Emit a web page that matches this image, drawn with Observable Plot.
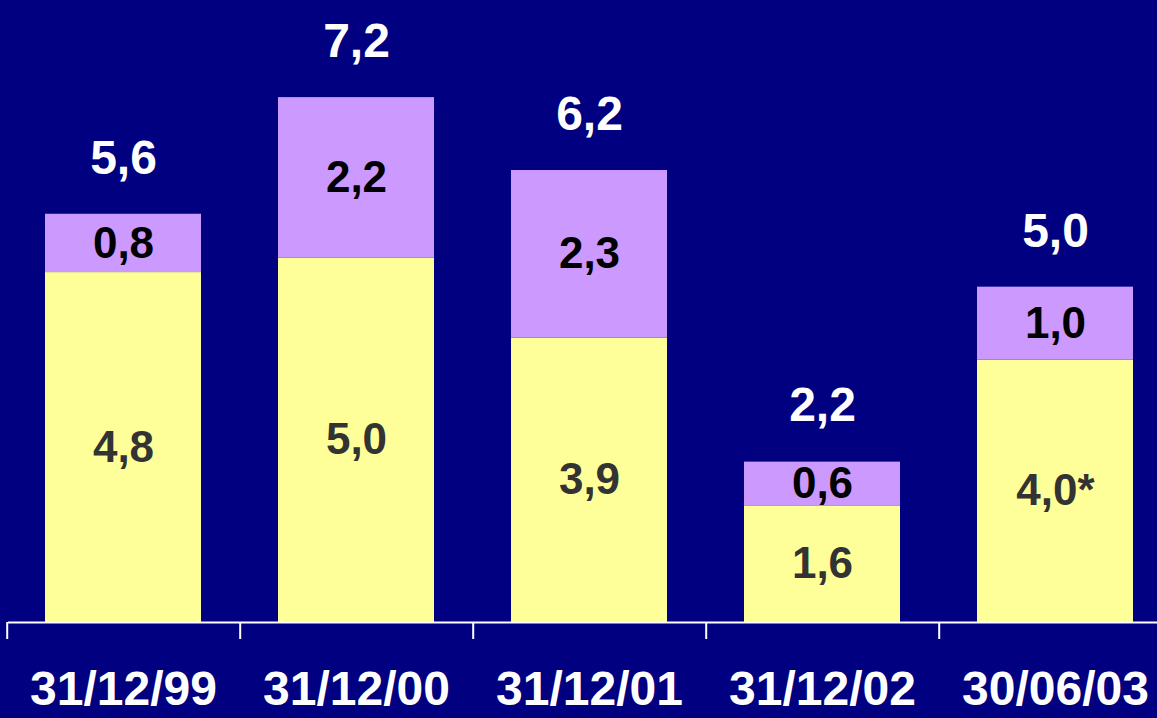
<!DOCTYPE html>
<html>
<head>
<meta charset="utf-8">
<script src="https://cdn.jsdelivr.net/npm/d3@7"></script>
<script src="https://cdn.jsdelivr.net/npm/@observablehq/plot@0.6"></script>
<style>
  html, body { margin: 0; padding: 0; background: #000080; overflow: hidden; }
  #chart { width: 1157px; height: 718px; overflow: hidden; }
  #chart svg { display: block; max-width: none !important; }
</style>
</head>
<body>
<div id="chart"></div>
<script>
// Data
const dates = ["31/12/99", "31/12/00", "31/12/01", "31/12/02", "30/06/03"];
const baseValues = [4.8, 5.0, 3.9, 1.6, 3.6];
const topValues = [0.8, 2.2, 2.3, 0.6, 1.0];
const baseLabels = ["4,8", "5,0", "3,9", "1,6", "4,0*"];
const topLabels = ["0,8", "2,2", "2,3", "0,6", "1,0"];
const totalLabels = ["5,6", "7,2", "6,2", "2,2", "5,0"];
const seriesNames = ["base", "top"];

const rows = [];
dates.forEach((d, i) => {
  rows.push({date: d, series: "base", value: baseValues[i], y1: 0, y2: baseValues[i], label: baseLabels[i]});
  rows.push({date: d, series: "top", value: topValues[i], y1: baseValues[i], y2: baseValues[i] + topValues[i], label: topLabels[i]});
});
const totals = dates.map((d, i) => ({date: d, total: baseValues[i] + topValues[i], label: totalLabels[i]}));

const W = 1171, H = 718, ML = 8, MB = 96;
const step = (W - ML) / dates.length;
const font = "'Liberation Sans', Arial, Helvetica, sans-serif";

const chart = Plot.plot({
  width: W,
  height: H,
  marginLeft: ML,
  marginRight: 0,
  marginTop: 0,
  marginBottom: MB,
  style: {background: "#000080", fontFamily: font, maxWidth: "none"},
  x: {domain: dates, paddingInner: 0.33, paddingOuter: 0.16, label: null},
  y: {domain: [0, 622 / 72.9], axis: null},
  color: {domain: seriesNames, range: ["#FFFF99", "#CC99FF"]},
  marks: [
    Plot.rectY(rows, {x: "date", y1: "y1", y2: "y2", fill: "series"}),
    Plot.ruleY([0], {stroke: "white", strokeWidth: 2}),
    Plot.axisX({tickSize: 17, stroke: "white", strokeWidth: 2, dx: -step / 2, tickFormat: () => "", ticks: dates}),
    Plot.axisX({tickSize: 0, tickPadding: 48, fontSize: 48, fontWeight: "bold", fill: "white", ticks: dates}),
    Plot.text(rows, {
      x: "date", y: d => (d.y1 + d.y2) / 2, text: "label",
      fill: d => d.series === "top" ? "#000000" : "#333333",
      fontSize: 44, fontWeight: "bold", lineAnchor: "middle"
    }),
    Plot.text(totals, {
      x: "date", y: "total", text: "label", fill: "white",
      fontSize: 48, fontWeight: "bold", lineAnchor: "middle", dy: -56
    })
  ]
});
document.getElementById("chart").appendChild(chart);
</script>
</body>
</html>
